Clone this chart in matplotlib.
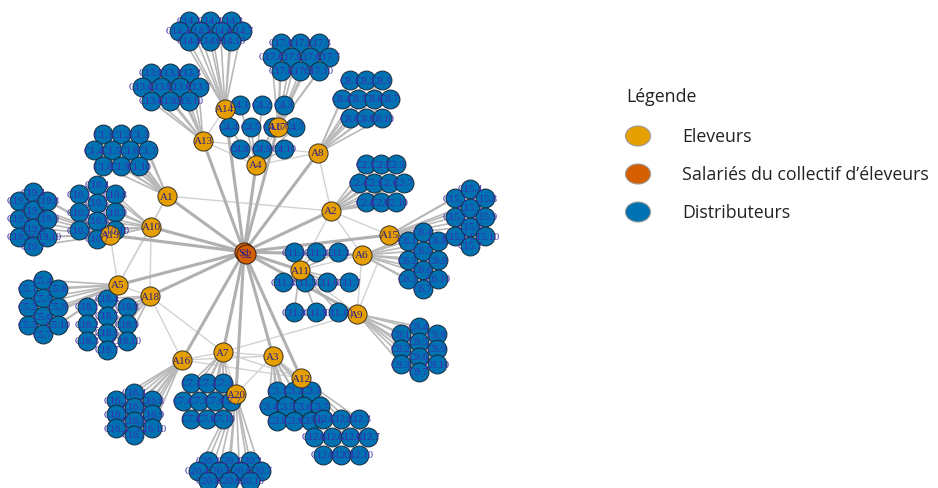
import matplotlib.pyplot as plt
from matplotlib.collections import LineCollection
from matplotlib.patches import Ellipse

# -------------------------
# Network data
# -------------------------

employees = ["S1", "S2"]
farmers = ["A%d" % i for i in range(1, 21)]
n_distributors = [10, 10, 10, 10, 10, 10, 10, 10, 10, 10,
                  10, 10, 10, 10, 10, 10, 10, 10, 10, 10]

farmer_links = [
    ("A1", "A2"), ("A1", "A10"), ("A1", "A5"), ("A10", "A19"),
    ("A10", "A18"), ("A10", "A5"), ("A19", "A5"), ("A5", "A18"),
    ("A18", "A7"), ("A18", "A16"), ("A16", "A7"), ("A16", "A3"),
    ("A16", "A12"), ("A7", "A3"), ("A7", "A9"), ("A7", "A12"),
    ("A7", "A20"), ("A20", "A3"), ("A3", "A12"), ("A2", "A15"),
    ("A2", "A6"), ("A2", "A11"), ("A6", "A9"), ("A15", "A9"),
    ("A11", "A9"), ("A13", "A14"), ("A13", "A4"), ("A13", "A8"),
    ("A4", "A8"), ("A4", "A17"), ("A8", "A2"), ("A11", "A6"),
]

legend_labels = ["Eleveurs", "Salariés du collectif d\u2019éleveurs", "Distributeurs"]

# -------------------------
# Layout (pixel space of the figure)
# -------------------------

employee_pos = {"S1": (244, 253), "S2": (246, 255)}

farmer_pos = {
    "A1": (167, 197), "A2": (331, 212), "A3": (273, 357), "A4": (256, 166),
    "A5": (118, 286), "A6": (362, 256), "A7": (223, 353), "A8": (318, 154),
    "A9": (357, 315), "A10": (151, 228), "A11": (300, 271), "A12": (301, 379),
    "A13": (203, 142), "A14": (225, 110), "A15": (389, 236), "A16": (182, 361),
    "A17": (278, 128), "A18": (150, 297), "A19": (110, 236), "A20": (236, 395),
}

# centre x, centre y, x spacing, y spacing, rotated
cluster_shape = {
    "A1": (121, 151, 18, 16, False), "A2": (381, 184, 15, 19, False),
    "A3": (294, 407, 17, 15, False), "A4": (262, 128, 22, 22, False),
    "A5": (43, 308, 15, 18, True), "A6": (423, 261, 15, 19, True),
    "A7": (207, 402, 16, 18, False), "A8": (366, 100, 16, 19, False),
    "A9": (419, 350, 18, 15, True), "A10": (97, 213, 18, 18, True),
    "A11": (316, 283, 22, 30, False), "A12": (341, 438, 18, 18, False),
    "A13": (170, 88, 19, 14, False), "A14": (210, 32, 21, 10, False),
    "A15": (470, 218, 15, 19, True), "A16": (134, 415, 18, 14, True),
    "A17": (300, 58, 19, 14, False), "A18": (107, 325, 20, 17, True),
    "A19": (33, 220, 14, 18, True), "A20": (229, 472, 21, 10, False),
}

template = [(-1, -1), (0, -1), (1, -1), (-1.5, 0), (-0.5, 0), (0.5, 0),
            (1.5, 0), (-1, 1), (0, 1), (1, 1)]

distrib_pos = {}
distrib_owner = {}
for farmer, n in zip(farmers, n_distributors):
    cx, cy, sx, sy, rot = cluster_shape[farmer]
    for j in range(n):
        ux, uy = template[j % len(template)]
        if rot:
            ux, uy = uy, ux
        name = "C%s.%d" % (farmer[1:], j + 1)
        distrib_pos[name] = (cx + ux * sx, cy + uy * sy)
        distrib_owner[name] = farmer

# -------------------------
# Figure
# -------------------------

fig = plt.figure(figsize=(9.38, 4.89), dpi=100)
ax = fig.add_axes([0, 0, 1, 1])
ax.set_xlim(0, 938)
ax.set_ylim(489, 0)
ax.axis("off")

# edges
se_edges = [(employee_pos["S1"], farmer_pos[f]) for f in farmers]
ac_edges = [(farmer_pos[distrib_owner[c]], p) for c, p in distrib_pos.items()]
aa_edges = [(farmer_pos[a], farmer_pos[b]) for a, b in farmer_links]

ax.add_collection(LineCollection(aa_edges, colors="#d2d2d2", linewidths=1.0, zorder=1))
ax.add_collection(LineCollection(ac_edges, colors="#b8b8b8", linewidths=1.2, zorder=1))
ax.add_collection(LineCollection(se_edges, colors="#b0b0b0", linewidths=2.2, zorder=1))

label_color = "#2a1f8c"
serif = "Liberation Serif"

# distributors
dx = [p[0] for p in distrib_pos.values()]
dy = [p[1] for p in distrib_pos.values()]
ax.scatter(dx, dy, s=185, c="#0072B2", edgecolors="#16283a", linewidths=0.7, zorder=2)
for name, (x, y) in distrib_pos.items():
    ax.text(x, y, name, ha="center", va="center", fontsize=7.5,
            family=serif, color="#3b2db0", zorder=5)

# farmers
fx = [farmer_pos[f][0] for f in farmers]
fy = [farmer_pos[f][1] for f in farmers]
ax.scatter(fx, fy, s=190, c="#E69F00", edgecolors="#3a3020", linewidths=0.7, zorder=3)
for f in farmers:
    x, y = farmer_pos[f]
    ax.text(x, y, f, ha="center", va="center", fontsize=8,
            family=serif, color=label_color, zorder=5)

# employees
for e in employees:
    x, y = employee_pos[e]
    ax.scatter([x], [y], s=190, c="#D55E00", edgecolors="#3a2010", linewidths=0.7, zorder=4)
    ax.text(x, y, e, ha="center", va="center", fontsize=8,
            family=serif, color=label_color, zorder=5)

# -------------------------
# Legend
# -------------------------

ax.text(626, 97, "Légende", ha="left", va="center", fontsize=12.8,
        family="Open Sans", color="#222222")
legend_colors = ["#E69F00", "#D55E00", "#0072B2"]
legend_y = [137, 175, 213]
for lab, col, y in zip(legend_labels, legend_colors, legend_y):
    ax.add_patch(Ellipse((638, y), 25, 20, facecolor=col,
                         edgecolor="#9a9a9a", linewidth=0.8))
    ax.text(682, y, lab, ha="left", va="center", fontsize=12.8,
            family="Open Sans", color="#222222")

fig.savefig("out.png", dpi=100)
